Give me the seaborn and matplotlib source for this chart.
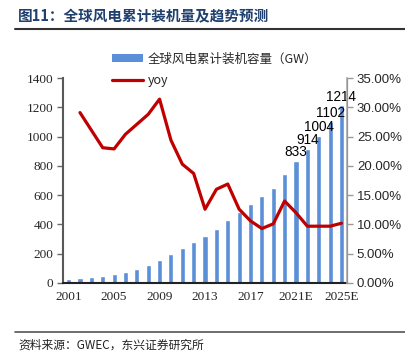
import pandas as pd
import matplotlib.pyplot as plt
import seaborn as sns
import numpy as np
from matplotlib.patches import Patch
from matplotlib.lines import Line2D

years = ['2001', '2002', '2003', '2004', '2005', '2006', '2007', '2008', '2009', '2010',
         '2011', '2012', '2013', '2014', '2015', '2016', '2017', '2018', '2019', '2020',
         '2021E', '2022E', '2023E', '2024E', '2025E']
capacity = [24, 31, 40, 48, 59, 74, 94, 121, 159, 198, 238, 283, 319, 370, 433,
            487, 540, 591, 651, 743, 833, 914, 1004, 1102, 1214]
yoy = [np.nan, 29.1, 26.1, 23.1, 22.9, 25.4, 27.1, 28.8, 31.4, 24.4, 20.3, 18.7, 12.6,
       16.0, 16.9, 12.6, 10.6, 9.3, 10.1, 14.0, 12.0, 9.7, 9.7, 9.7, 10.2]
shown_labels = ['2001', '2005', '2009', '2013', '2017', '2021E', '2025E']
labelled_years = ['2021E', '2022E', '2023E', '2024E', '2025E']

bar_color = '#5B90D8'
line_color = '#C00000'
title_color = '#1F3F6E'

sns.set_style('white')
plt.rcParams['font.family'] = ['Noto Sans CJK SC', 'DejaVu Sans']

df = pd.DataFrame({'year': years, 'capacity': capacity, 'yoy': yoy})
df['pos'] = np.arange(len(df))

fig = plt.figure(figsize=(4.06, 3.58), dpi=100)
ax = fig.add_axes([0.155, 0.2095, 0.70, 0.5725])

sns.barplot(data=df, x='year', y='capacity', color=bar_color, width=0.45,
            saturation=1, ax=ax, zorder=2)
ax.set_ylim(0, 1400)
ax.set_yticks(np.arange(0, 1401, 200))
ax.set_xlim(-0.5, len(years) - 0.5)
ax.set_xticks([years.index(y) for y in shown_labels])
ax.set_xticklabels(shown_labels, family='Liberation Serif', fontsize=9.5)
ax.set_xticks(np.arange(-0.5, len(years), 1), minor=True)
ax.tick_params(axis='x', which='major', length=0, pad=6)
ax.tick_params(axis='x', which='minor', length=3, direction='in', color='#333333', width=1)
ax.tick_params(axis='y', length=4, direction='out', color='#666666', width=1, pad=3)
for t in ax.get_yticklabels():
    t.set_family('Liberation Serif')
    t.set_fontsize(9.5)
ax.set_xlabel('')
ax.set_ylabel('')

for y in labelled_years:
    i = years.index(y)
    ax.text(i, capacity[i] + 12, str(capacity[i]), ha='center', va='bottom',
            family='Liberation Sans', fontsize=9.8, color='black')

ax2 = ax.twinx()
sns.lineplot(data=df, x='pos', y='yoy', color=line_color, linewidth=2.3, ax=ax2)
ax2.set_ylim(0, 35)
ax2.set_yticks(np.arange(0, 36, 5))
ax2.set_yticklabels([f'{v:.2f}%' for v in np.arange(0, 36, 5)],
                    family='Liberation Sans', fontsize=9.5)
ax2.set_xlim(-0.5, len(years) - 0.5)
ax2.set_ylabel('')
ax2.set_xlabel('')
ax2.tick_params(axis='y', length=4, direction='out', color='#999999', width=1, pad=3)

for a in (ax, ax2):
    a.spines['top'].set_visible(False)
ax.spines['left'].set_color('#595959')
ax.spines['left'].set_linewidth(1.5)
ax.spines['bottom'].set_color('#222222')
ax.spines['bottom'].set_linewidth(1.5)
ax2.spines['left'].set_visible(False)
ax2.spines['bottom'].set_visible(False)
ax2.spines['right'].set_color('#AAAAAA')
ax2.spines['right'].set_linewidth(1.2)

handles = [Patch(facecolor=bar_color, edgecolor='none'),
           Line2D([0], [0], color=line_color, linewidth=2.3)]
fig.legend(handles, ['全球风电累计装机容量（GW）', 'yoy'],
           loc='upper left', bbox_to_anchor=(0.247, 0.885), frameon=False,
           handlelength=2.5, handleheight=0.5, labelspacing=0.65, handletextpad=0.4,
           prop={'family': ['Noto Sans CJK SC', 'Liberation Serif'], 'size': 9})

fig.text(0.045, 0.955, '图11：全球风电累计装机量及趋势预测', fontsize=10.5,
         fontweight='bold', color=title_color, va='center', ha='left')
fig.add_artist(Line2D([0.037, 1.0], [0.918, 0.918], color='#333333', linewidth=1.5))
fig.add_artist(Line2D([0.037, 1.0], [0.073, 0.073], color='#555555', linewidth=1.2))
fig.text(0.045, 0.035, '资料来源：GWEC，东兴证券研究所', fontsize=8.5,
         style='italic', color='#222222', va='center', ha='left')

fig.savefig('out.png', dpi=100)
